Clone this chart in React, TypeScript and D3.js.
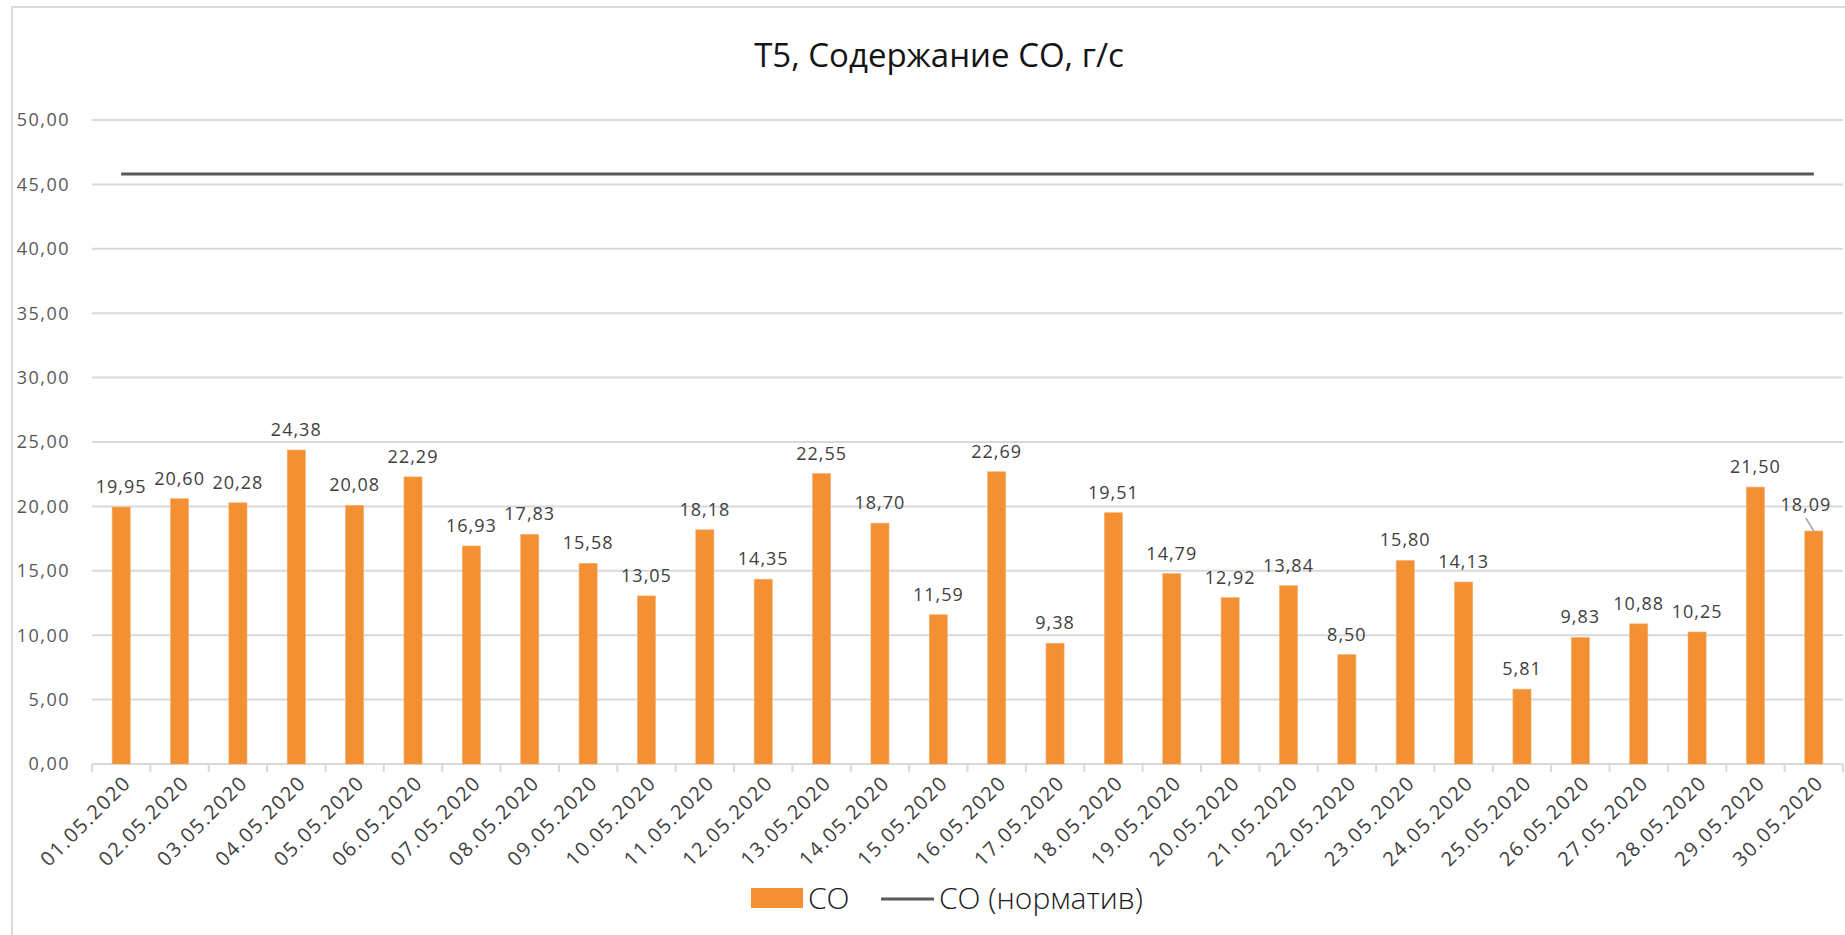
import React, { useEffect } from "react";
import * as d3 from "d3";

const categories = [
  "01.05.2020", "02.05.2020", "03.05.2020", "04.05.2020", "05.05.2020", "06.05.2020",
  "07.05.2020", "08.05.2020", "09.05.2020", "10.05.2020", "11.05.2020", "12.05.2020",
  "13.05.2020", "14.05.2020", "15.05.2020", "16.05.2020", "17.05.2020", "18.05.2020",
  "19.05.2020", "20.05.2020", "21.05.2020", "22.05.2020", "23.05.2020", "24.05.2020",
  "25.05.2020", "26.05.2020", "27.05.2020", "28.05.2020", "29.05.2020", "30.05.2020",
];
const coValues = [
  19.95, 20.6, 20.28, 24.38, 20.08, 22.29, 16.93, 17.83, 15.58, 13.05, 18.18, 14.35,
  22.55, 18.7, 11.59, 22.69, 9.38, 19.51, 14.79, 12.92, 13.84, 8.5, 15.8, 14.13,
  5.81, 9.83, 10.88, 10.25, 21.5, 18.09,
];
const normValues = [
  45.8, 45.8, 45.8, 45.8, 45.8, 45.8, 45.8, 45.8, 45.8, 45.8, 45.8, 45.8, 45.8, 45.8, 45.8,
  45.8, 45.8, 45.8, 45.8, 45.8, 45.8, 45.8, 45.8, 45.8, 45.8, 45.8, 45.8, 45.8, 45.8, 45.8,
];
const yTicks = [0, 5, 10, 15, 20, 25, 30, 35, 40, 45, 50];
const title = "Т5, Содержание СО, г/с";
const seriesNames = ["СО", "СО (норматив)"];

const W = 1845;
const H = 935;
const plot = { left: 92, right: 1843, top: 120, bottom: 764 };
const labelFont = "'Open Sans', 'DejaVu Sans', sans-serif";
const fmt = (v: number) => v.toFixed(2).replace(".", ",");

export default function App() {
  useEffect(() => {
    document.body.style.margin = "0";
  }, []);

  const x = d3.scaleBand<string>().domain(categories).range([plot.left, plot.right]).paddingInner(0.69).paddingOuter(0.345);
  const step = x.step();
  const y = d3.scaleLinear().domain([0, 50]).range([plot.bottom, plot.top]);
  const cx = (c: string) => (x(c) as number) + x.bandwidth() / 2;

  const normLine = d3
    .line<number>()
    .x((_, i) => cx(categories[i]))
    .y((d) => y(d))(normValues) as string;

  const tickEdges = categories.map((c) => (x(c) as number) - (step - x.bandwidth()) / 2);
  tickEdges.push(plot.right);

  return (
    <svg width={W} height={H} style={{ display: "block", background: "#fff" }}>
      <rect x={12} y={7} width={W} height={H} fill="#fff" stroke="#d9d9d9" strokeWidth={2} />
      <text x={939} y={67} textAnchor="middle" fontFamily={labelFont} fontSize={33} fill="#141414">
        {title}
      </text>
      {yTicks.map((t) => (
        <g key={t}>
          <line x1={plot.left} x2={plot.right} y1={y(t)} y2={y(t)} stroke="#d9d9d9" strokeWidth={2} />
          <text x={70} y={y(t)} dy="0.35em" textAnchor="end" fontFamily={labelFont} fontSize={18} fill="#595959" letterSpacing={1.5}>
            {fmt(t)}
          </text>
        </g>
      ))}
      {tickEdges.map((e, i) => (
        <line key={i} x1={e} x2={e} y1={plot.bottom} y2={plot.bottom + 8} stroke="#d9d9d9" strokeWidth={2} />
      ))}
      {categories.map((c, i) => (
        <rect key={c} x={x(c)} y={y(coValues[i])} width={x.bandwidth()} height={plot.bottom - y(coValues[i])} fill="#f39033" stroke="#f6b070" strokeWidth={0.6} />
      ))}
      <path d={normLine} fill="none" stroke="#595959" strokeWidth={3} />
      {categories.map((c, i) => {
        const last = i === categories.length - 1;
        const lx = cx(c) + (last ? -8 : 0);
        const ly = y(coValues[i]) - (last ? 20 : 14);
        return (
          <g key={c}>
            {last && <line x1={lx} y1={ly + 7} x2={cx(c)} y2={y(coValues[i])} stroke="#a6a6a6" strokeWidth={1.5} />}
            <text x={lx} y={ly} textAnchor="middle" fontFamily={labelFont} fontSize={18} fill="#404040" letterSpacing={1}>
              {fmt(coValues[i])}
            </text>
          </g>
        );
      })}
      {categories.map((c) => (
        <text key={c} transform={`translate(${cx(c) + 6},${plot.bottom + 15}) rotate(-45)`} textAnchor="end" dy="0.35em" fontFamily={labelFont} fontSize={20} fill="#404040" letterSpacing={1.6}>
          {c}
        </text>
      ))}
      <g fontFamily={labelFont} fontSize={30} fill="#1a1a1a" fontWeight={300}>
        <rect x={751} y={888} width={52} height={20} fill="#f39033" />
        <text x={808} y={909}>{seriesNames[0]}</text>
        <line x1={881} x2={934} y1={899} y2={899} stroke="#595959" strokeWidth={3} />
        <text x={939} y={909}>{seriesNames[1]}</text>
      </g>
    </svg>
  );
}
